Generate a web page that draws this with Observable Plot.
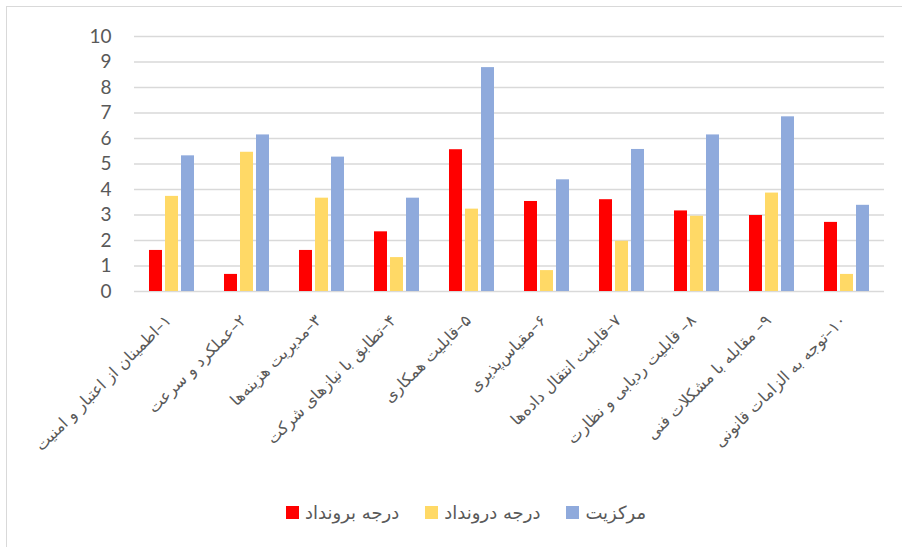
<!DOCTYPE html>
<html>
<head>
<meta charset="utf-8">
<script src="https://cdn.jsdelivr.net/npm/d3@7"></script>
<script src="https://cdn.jsdelivr.net/npm/@observablehq/plot@0.6"></script>
<style>
  html, body { margin: 0; padding: 0; background: #fff; }
  #wrap { position: relative; width: 902px; height: 547px; overflow: hidden; }
  #border { position: absolute; left: 6px; top: 6px; width: 910px; height: 560px; border-left: 1.5px solid #d9d9d9; border-top: 1.5px solid #d9d9d9; box-sizing: border-box; }
  #chart { position: absolute; left: 0; top: 0; }
  #legend { position: absolute; left: 286px; top: 502px; display: flex; align-items: center; font-family: "DejaVu Sans", sans-serif; font-size: 18px; color: #595959; }
  .item { display: flex; align-items: center; margin-right: 26px; }
  .sw { width: 13px; height: 13px; margin-right: 6px; }
</style>
</head>
<body>
<div id="wrap">
  <div id="border"></div>
  <div id="chart"></div>
  <div id="legend"></div>
</div>
<script>
const categories = [
  "۱–اطمینان از اعتبار و امنیت",
  "۲–عملکرد و سرعت",
  "۳–مدیریت هزینه‌ها",
  "۴–تطابق با نیازهای شرکت",
  "۵–قابلیت همکاری",
  "۶–مقیاس‌پذیری",
  "۷–قابلیت انتقال داده‌ها",
  "۸– قابلیت ردیابی و نظارت",
  "۹– مقابله با مشکلات فنی",
  "۱۰–توجه به الزامات قانونی"
];
const series = ["درجه برونداد", "درجه درونداد", "مرکزیت"];
const outDegree  = [1.61, 0.67, 1.61, 2.34, 5.56, 3.53, 3.60, 3.16, 2.98, 2.71];
const inDegree   = [3.73, 5.46, 3.66, 1.33, 3.23, 0.82, 1.97, 2.95, 3.86, 0.67];
const centrality = [5.32, 6.14, 5.27, 3.66, 8.78, 4.38, 5.57, 6.14, 6.85, 3.38];
const colors = ["#FF0000", "#FFD966", "#8FAADC"];
const yTicks = [0, 1, 2, 3, 4, 5, 6, 7, 8, 9, 10];

const valuesBySeries = [outDegree, inDegree, centrality];
const data = [];
categories.forEach((c, i) => {
  series.forEach((s, j) => data.push({cat: c, series: s, value: valuesBySeries[j][i]}));
});

const height = 490;
const plot = Plot.plot({
  width: 902,
  height,
  marginLeft: 131,
  marginRight: 16,
  marginTop: 36,
  marginBottom: height - 291,
  style: {background: "transparent", overflow: "visible"},
  fx: {domain: categories, paddingInner: 0, paddingOuter: 0, axis: null, label: null},
  x: {domain: series, paddingInner: 0.18, paddingOuter: 0.88, axis: null, label: null},
  y: {domain: [0, 10], ticks: yTicks, label: null, axis: null},
  color: {domain: series, range: colors},
  marks: [
    Plot.ruleY(yTicks, {y: d => d, stroke: "#d9d9d9", strokeWidth: 1.5}),
    Plot.barY(data, {fx: "cat", x: "series", y: "value", fill: "series"}),
    Plot.axisY({ticks: yTicks, tickSize: 0, tickPadding: 23, fontSize: 19, fontFamily: "Lato, sans-serif", color: "#595959", label: null, tickFormat: d => String(d)}),
    Plot.text(categories, {
      fx: d => d,
      text: d => "\u202B" + d + "\u202C",
      frameAnchor: "bottom",
      dy: 30,
      rotate: -45,
      textAnchor: "end",
      fontSize: 16,
      fontFamily: "DejaVu Sans, sans-serif",
      fill: "#595959"
    })
  ]
});
document.getElementById("chart").appendChild(plot);

const legend = document.getElementById("legend");
series.forEach((s, i) => {
  const item = document.createElement("div");
  item.className = "item";
  const sw = document.createElement("span");
  sw.className = "sw";
  sw.style.background = colors[i];
  const t = document.createElement("span");
  t.dir = "rtl";
  t.textContent = s;
  item.appendChild(sw);
  item.appendChild(t);
  legend.appendChild(item);
});
</script>
</body>
</html>
